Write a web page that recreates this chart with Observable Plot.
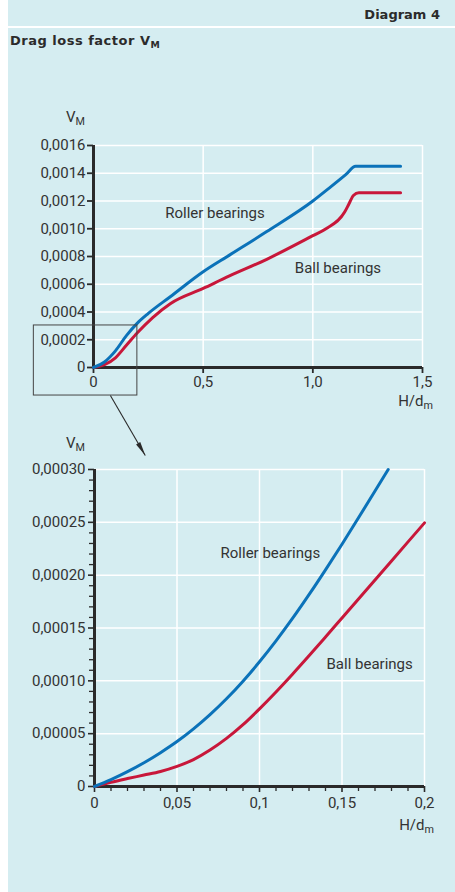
<!DOCTYPE html>
<html>
<head>
<meta charset="utf-8">
<script src="https://cdn.jsdelivr.net/npm/d3@7"></script>
<script src="https://cdn.jsdelivr.net/npm/@observablehq/plot@0.6"></script>
<style>
  html, body { margin: 0; padding: 0; background: #ffffff; }
  #page { position: relative; width: 455px; height: 892px; overflow: hidden; font-family: Roboto, "DejaVu Sans", sans-serif; color: #333; }
  #panel { position: absolute; left: 8px; top: 0; width: 447px; height: 892px; background: #d5edf1; }
  #sep { position: absolute; left: 8px; top: 26px; width: 447px; height: 2px; background: #ffffff; }
  .hdr { position: absolute; font-family: "DejaVu Sans", sans-serif; font-weight: bold; font-size: 13px; line-height: 1; color: #2b2b2b; white-space: nowrap; }
  .lbl { position: absolute; font-size: 15px; color: #333; white-space: nowrap; line-height: 1; }
  .lbl sub, .hdr sub { font-size: 0.72em; vertical-align: -0.3em; line-height: 0; }
  .chart { position: absolute; left: 0; }
</style>
</head>
<body>
<div id="page">
  <div id="panel"></div>
  <div id="sep"></div>
  <div class="hdr" style="right:15px; top:8px;">Diagram 4</div>
  <div class="hdr" style="left:10px; top:34px; letter-spacing:0.5px;">Drag loss factor V<sub>M</sub></div>
  <div id="top" class="chart" style="top:100px;"></div>
  <div id="bottom" class="chart" style="top:420px;"></div>
  <div class="lbl" style="left:66px; top:110px;">V<sub>M</sub></div>
  <div class="lbl" style="right:22px; top:394px;">H/d<sub>m</sub></div>
  <div class="lbl" style="left:66px; top:436px;">V<sub>M</sub></div>
  <div class="lbl" style="right:21px; top:818px;">H/d<sub>m</sub></div>
</div>
<script>
// ---- Top chart data (full range) ----
const topRollerX = [0, 0.05, 0.1, 0.15, 0.2, 0.25, 0.35, 0.5, 0.62, 0.79, 1.0, 1.08, 1.15, 1.195, 1.25, 1.4];
const topRollerY = [0, 0.00004, 0.00012, 0.00023, 0.00032, 0.00039, 0.00051, 0.00069, 0.00081, 0.00098, 0.0012, 0.0013, 0.00139, 0.00145, 0.00145, 0.00145];
const topBallX = [0, 0.05, 0.1, 0.15, 0.2, 0.27, 0.35, 0.5, 0.62, 0.79, 1.0, 1.06, 1.145, 1.165, 1.185, 1.21, 1.3, 1.4];
const topBallY = [0, 0.00002, 0.00007, 0.00016, 0.00025, 0.00036, 0.00046, 0.00057, 0.00066, 0.00078, 0.00095, 0.001, 0.00112, 0.00118, 0.00124, 0.00126, 0.00126, 0.00126];
const topXTicks = [0, 0.5, 1.0, 1.5];
const topYTicks = [0, 0.0002, 0.0004, 0.0006, 0.0008, 0.0010, 0.0012, 0.0014, 0.0016];
const insetBox = [{x1: -0.272, x2: 0.2, y1: -0.000202, y2: 0.000303}];
const zoomArrow = [{x1: 0.077, y1: -0.000202, x2: 0.236, y2: -0.000634}];
const topLabels = [
  {x: 0.327, y: 0.00111, text: "Roller bearings"},
  {x: 0.918, y: 0.000714, text: "Ball bearings"}
];

// ---- Bottom chart data (zoomed 0..0.2) ----
const botRollerX = [0, 0.01, 0.02, 0.03, 0.04, 0.05, 0.06, 0.07, 0.08, 0.09, 0.1, 0.11, 0.12, 0.13, 0.14, 0.15, 0.16, 0.17, 0.178];
const botRollerY = [0, 0.0000065, 0.000014, 0.0000225, 0.000032, 0.0000425, 0.0000545, 0.000068, 0.000083, 0.0000997, 0.000118, 0.0001378, 0.000159, 0.0001815, 0.000205, 0.0002293, 0.0002543, 0.0002796, 0.0003];
const botBallX = [0, 0.01, 0.02, 0.03, 0.04, 0.05, 0.06, 0.07, 0.08, 0.09, 0.1, 0.11, 0.12, 0.13, 0.14, 0.15, 0.16, 0.17, 0.18, 0.19, 0.2];
const botBallY = [0, 0.000004, 0.0000075, 0.0000108, 0.0000142, 0.000019, 0.0000255, 0.0000345, 0.0000455, 0.0000585, 0.0000735, 0.0000895, 0.0001063, 0.0001237, 0.0001415, 0.0001595, 0.0001775, 0.0001955, 0.0002135, 0.0002315, 0.0002495];
const botXTicks = [0, 0.05, 0.1, 0.15, 0.2];
const botXMinor = [0.01, 0.02, 0.03, 0.04, 0.06, 0.07, 0.08, 0.09, 0.11, 0.12, 0.13, 0.14, 0.16, 0.17, 0.18, 0.19];
const botYTicks = [0, 0.00005, 0.0001, 0.00015, 0.0002, 0.00025, 0.0003];
const botYMinor = [0.00001, 0.00002, 0.00003, 0.00004, 0.00006, 0.00007, 0.00008, 0.00009, 0.00011, 0.00012, 0.00013, 0.00014, 0.00016, 0.00017, 0.00018, 0.00019, 0.00021, 0.00022, 0.00023, 0.00024, 0.00026, 0.00027, 0.00028, 0.00029];
const botLabels = [
  {x: 0.0764, y: 0.000221, text: "Roller bearings"},
  {x: 0.1406, y: 0.0001155, text: "Ball bearings"}
];

const BLUE = "#0b72b9";
const RED = "#c8173a";
const INK = "#2a2a2a";
const zip = (xs, ys) => xs.map((x, i) => ({x, y: ys[i]}));
const fmt = n => d => d === 0 ? "0" : d.toFixed(n).replace(".", ",");
const fmtShort = d => d === 0 ? "0" : String(d).replace(".", ",");
const style = {background: "transparent", overflow: "visible", fontFamily: "Roboto, 'DejaVu Sans', sans-serif", color: INK};

// narrow filled arrowhead symbol, tip at the anchor point, pointing "up" before rotation
const arrowHead = {
  draw(context, size) {
    const h = Math.sqrt(size) * 1.6;
    const w = h * 0.34;
    context.moveTo(0, 0);
    context.lineTo(w / 2, h);
    context.lineTo(-w / 2, h);
    context.closePath();
  }
};

const topChart = Plot.plot({
  width: 455, height: 360,
  marginLeft: 93, marginRight: 33, marginTop: 45, marginBottom: 93,
  style,
  x: {domain: [0, 1.5]},
  y: {domain: [0, 0.0016]},
  marks: [
    Plot.gridY(topYTicks.slice(1), {stroke: "#ffffff", strokeOpacity: 1, strokeWidth: 1.5}),
    Plot.gridX(topXTicks.slice(1), {stroke: "#ffffff", strokeOpacity: 1, strokeWidth: 1.5}),
    Plot.axisY(topYTicks, {tickSize: 6, tickPadding: 2, tickFormat: fmt(4), fontSize: 15, label: null, stroke: INK, strokeWidth: 1.8, fill: "#333"}),
    Plot.axisX(topXTicks, {tickSize: 6, tickPadding: 3, tickFormat: fmt(1), fontSize: 15, label: null, stroke: INK, strokeWidth: 1.8, fill: "#333"}),
    Plot.ruleX([0], {stroke: INK, strokeWidth: 3}),
    Plot.ruleY([0], {stroke: INK, strokeWidth: 3}),
    Plot.line(zip(topBallX, topBallY), {x: "x", y: "y", stroke: RED, strokeWidth: 3, curve: "monotone-x"}),
    Plot.line(zip(topRollerX, topRollerY), {x: "x", y: "y", stroke: BLUE, strokeWidth: 3, curve: "monotone-x"}),
    Plot.rect(insetBox, {x1: "x1", x2: "x2", y1: "y1", y2: "y2", fill: "none", stroke: "#444", strokeWidth: 1}),
    Plot.link(zoomArrow, {x1: "x1", y1: "y1", x2: "x2", y2: "y2", stroke: INK, strokeWidth: 1.1}),
    Plot.dot(zoomArrow, {x: "x2", y: "y2", symbol: arrowHead, r: 5, fill: INK, stroke: "none", rotate: 150}),
    Plot.text(topLabels, {x: "x", y: "y", text: "text", textAnchor: "start", fontSize: 15, fill: "#333"})
  ]
});
document.getElementById("top").appendChild(topChart);

const botChart = Plot.plot({
  width: 455, height: 420,
  marginLeft: 94, marginRight: 31, marginTop: 49, marginBottom: 54,
  style,
  x: {domain: [0, 0.2]},
  y: {domain: [0, 0.0003]},
  marks: [
    Plot.gridY(botYTicks.slice(1), {stroke: "#ffffff", strokeOpacity: 1, strokeWidth: 1.5}),
    Plot.gridX(botXTicks.slice(1), {stroke: "#ffffff", strokeOpacity: 1, strokeWidth: 1.5}),
    Plot.axisY(botYTicks, {tickSize: 6, tickPadding: 3, tickFormat: fmt(5), fontSize: 15, label: null, stroke: INK, strokeWidth: 1.6, fill: "#333"}),
    Plot.axisY(botYMinor, {tickSize: 5, tickFormat: () => "", label: null, stroke: INK, strokeWidth: 1.3}),
    Plot.axisX(botXTicks, {tickSize: 6, tickPadding: 5, tickFormat: fmtShort, fontSize: 15, label: null, stroke: INK, strokeWidth: 1.6, fill: "#333"}),
    Plot.axisX(botXMinor, {tickSize: 5, tickFormat: () => "", label: null, stroke: INK, strokeWidth: 1.3}),
    Plot.ruleX([0], {stroke: INK, strokeWidth: 3}),
    Plot.ruleY([0], {stroke: INK, strokeWidth: 3}),
    Plot.line(zip(botBallX, botBallY), {x: "x", y: "y", stroke: RED, strokeWidth: 3, curve: "monotone-x"}),
    Plot.line(zip(botRollerX, botRollerY), {x: "x", y: "y", stroke: BLUE, strokeWidth: 3, curve: "monotone-x"}),
    Plot.text(botLabels, {x: "x", y: "y", text: "text", textAnchor: "start", fontSize: 15, fill: "#333"})
  ]
});
document.getElementById("bottom").appendChild(botChart);
</script>
</body>
</html>
